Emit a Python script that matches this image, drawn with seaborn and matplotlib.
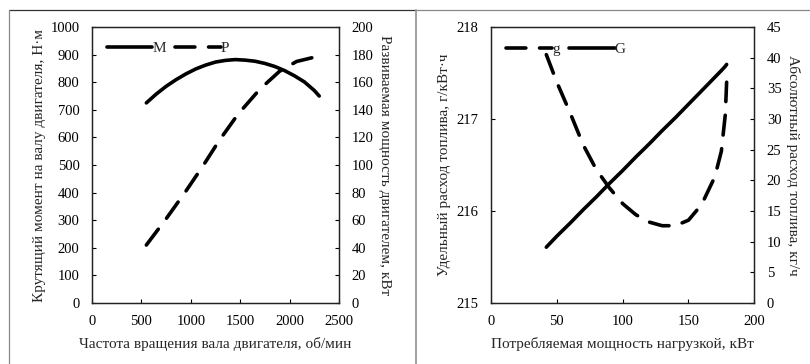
import numpy as np
import pandas as pd
import matplotlib
matplotlib.use("Agg")
from matplotlib import pyplot as plt
from matplotlib.lines import Line2D
import seaborn as sns

# ---- data ----
# left panel: engine speed (rpm) and torque M (N*m)
rpm_M = [550, 650, 750, 850, 950, 1050, 1150, 1250, 1350, 1450, 1550, 1650,
         1750, 1850, 1950, 2050, 2150, 2250, 2300]
torque_M = [725, 757, 785, 809, 830, 848, 862, 873, 879, 882, 880, 876,
            868, 857, 842, 823, 801, 770, 750]
# engine speed (rpm) and power P (kW)
rpm_P = [550, 750, 940, 1120, 1290, 1480, 1700, 1900, 2070, 2300]
power_P = [42, 61, 80, 99, 118, 137, 155, 168, 175, 179]

# right panel: load power (kW), specific fuel g (g/kWh), absolute fuel G (kg/h)
load_kw = [42, 50, 60, 70, 80, 90, 100, 110, 120, 130, 140, 150, 160, 170, 175, 178, 179]
spec_g = [217.70, 217.40, 217.07, 216.72, 216.45, 216.25, 216.08, 215.96, 215.88,
          215.84, 215.84, 215.90, 216.07, 216.37, 216.65, 217.05, 217.40]
abs_G = [9.1, 10.9, 13.0, 15.2, 17.3, 19.5, 21.6, 23.8, 25.9, 28.1, 30.2, 32.4, 34.6, 36.8, 37.9, 38.6, 38.9]

sns.set_style("ticks")
plt.rcParams['font.family'] = ['Liberation Serif', 'DejaVu Serif']
plt.rcParams['font.size'] = 11
plt.rcParams['axes.linewidth'] = 0.9
plt.rcParams['axes.edgecolor'] = '#222222'

fig = plt.figure(figsize=(8.1, 3.64), dpi=100)

LW = 2.6
DASH = (5.5, 3.8)


def style_ax(ax):
    ax.tick_params(direction='in', length=3, width=0.8, colors='black', labelsize=10.5, pad=9)


# left panel
dfM = pd.DataFrame({"n": rpm_M, "M": torque_M})
dfP = pd.DataFrame({"n": rpm_P, "P": power_P})
ax1 = fig.add_axes([0.1136, 0.1676, 0.3049, 0.7582])
ax1b = ax1.twinx()
sns.lineplot(data=dfM, x="n", y="M", ax=ax1, color='black', lw=LW, solid_capstyle='round')
sns.lineplot(data=dfP, x="n", y="P", ax=ax1b, color='black', lw=LW)
ax1b.lines[0].set_dashes(DASH)
ax1b.lines[0].set_dash_capstyle('round')
ax1.set_xlim(0, 2500)
ax1.set_ylim(0, 1000)
ax1b.set_ylim(0, 200)
ax1.set_xticks(range(0, 2501, 500))
ax1.set_yticks(range(0, 1001, 100))
ax1b.set_yticks(range(0, 201, 20))
ax1.set_xlabel("Частота вращения вала двигателя, об/мин", labelpad=6)
ax1.set_ylabel("Крутящий момент на валу двигателя, Н·м", labelpad=3)
ax1b.set_ylabel("Развиваемая мощность двигателем, кВт", rotation=270, labelpad=13)
style_ax(ax1)
style_ax(ax1b)
h1 = [Line2D([], [], color='black', lw=LW, solid_capstyle='round'),
      Line2D([], [], color='black', lw=LW, dashes=DASH, dash_capstyle='round')]
ax1.legend(h1, ["M", "P"], loc='upper left', ncol=2, frameon=False, handlelength=3.0,
           handletextpad=0.0, columnspacing=0.6, borderaxespad=0.55, fontsize=11)

# right panel
df2 = pd.DataFrame({"p": load_kw, "g": spec_g, "G": abs_G})
ax2 = fig.add_axes([0.6062, 0.1676, 0.3250, 0.7582])
ax2b = ax2.twinx()
sns.lineplot(data=df2, x="p", y="g", ax=ax2, color='black', lw=LW)
ax2.lines[0].set_dashes(DASH)
ax2.lines[0].set_dash_capstyle('round')
sns.lineplot(data=df2, x="p", y="G", ax=ax2b, color='black', lw=LW, solid_capstyle='round')
ax2.set_xlim(0, 200)
ax2.set_ylim(215, 218)
ax2b.set_ylim(0, 45)
ax2.set_xticks(range(0, 201, 50))
ax2.set_yticks([215, 216, 217, 218])
ax2b.set_yticks(range(0, 46, 5))
ax2.set_xlabel("Потребляемая мощность нагрузкой, кВт", labelpad=6)
ax2.set_ylabel("Удельный расход топлива, г/кВт·ч", labelpad=4)
ax2b.set_ylabel("Абсолютный расход топлива, кг/ч", rotation=270, labelpad=13)
style_ax(ax2)
style_ax(ax2b)
h2 = [Line2D([], [], color='black', lw=LW, dashes=DASH, dash_capstyle='round'),
      Line2D([], [], color='black', lw=LW, solid_capstyle='round')]
ax2.legend(h2, ["g", "G"], loc='upper left', ncol=2, frameon=False, handlelength=3.0,
           handletextpad=0.0, columnspacing=0.6, borderaxespad=0.6, fontsize=11)

# outer frame lines like the source document
W, H = 810, 364
fig.add_artist(Line2D([9 / W, 416 / W], [1 - 10 / H, 1 - 10 / H], color='#333333', lw=0.9))
fig.add_artist(Line2D([416 / W, 1], [1 - 10 / H, 1 - 10 / H], color='#888888', lw=0.9))
fig.add_artist(Line2D([9 / W, 9 / W], [0, 1 - 10 / H], color='#888888', lw=0.9))
fig.add_artist(Line2D([416 / W, 416 / W], [0, 1 - 10 / H], color='#999999', lw=1.3))

fig.savefig("out.png", dpi=100)
